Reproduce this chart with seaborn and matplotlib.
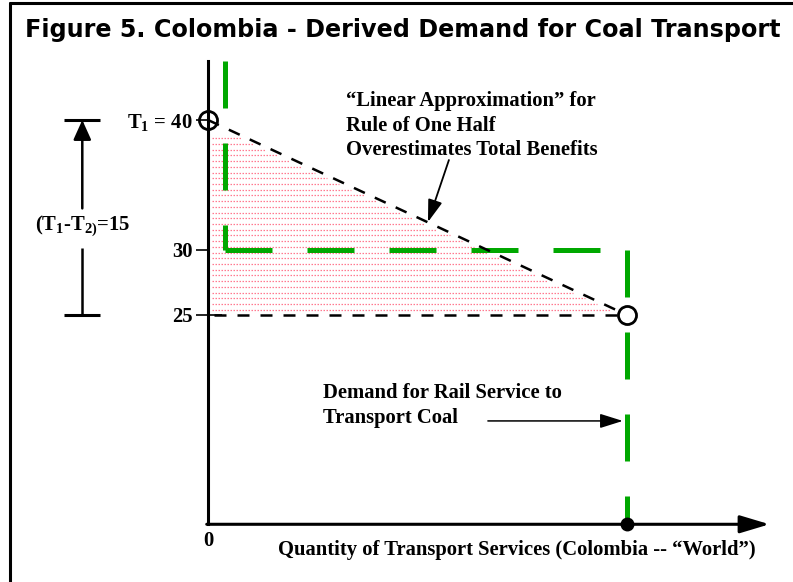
import numpy as np
import matplotlib.pyplot as plt
import seaborn as sns
from matplotlib.lines import Line2D

# --- values ---
TITLE = "Figure 5. Colombia - Derived Demand for Coal Transport"

T1 = 40          # transport cost before
T2 = 25          # transport cost after
RAIL_PRICE = 30  # flat part of the rail demand curve
Q_RAIL = 100     # quantity shipped at T2

# green "demand for rail service" curve, drawn as three pieces
demand_q = [4, 4, 4, Q_RAIL, Q_RAIL, Q_RAIL]
demand_p = [44.5, RAIL_PRICE, RAIL_PRICE, RAIL_PRICE, RAIL_PRICE, 8.9]
demand_seg = [0, 0, 1, 1, 2, 2]

# dashed linear approximation (rule of one half)
approx_q = [0, Q_RAIL]
approx_p = [T1, T2]

ytick_vals = [T2, RAIL_PRICE, T1]
ytick_labels = ["25", "30", r"T$_1$ = 40"]

# --- styling ---
sns.set_style("white")
plt.rcParams["font.family"] = ["Liberation Serif", "DejaVu Serif"]
plt.rcParams["font.weight"] = "bold"
plt.rcParams["text.color"] = "black"
plt.rcParams["ytick.color"] = "black"
plt.rcParams["mathtext.fontset"] = "custom"
plt.rcParams["mathtext.rm"] = "Liberation Serif:bold"
plt.rcParams["mathtext.it"] = "Liberation Serif:bold"
plt.rcParams["mathtext.bf"] = "Liberation Serif:bold"

GREEN = "#00a800"
PINK = "#ff7a90"
FS = 14.9
AXIS_FLOOR = demand_p[-1]
AXIS_TOP = demand_p[0]
X_END = 134

fig = plt.figure(figsize=(7.93, 5.82), dpi=100)
ax = fig.add_axes([0, 0, 1, 1])

# shaded area under the linear approximation (dotted pink texture)
levels = np.arange(T2 + 0.4, T1 - 1.0, 0.44)
right = approx_q[0] + (approx_q[1] - approx_q[0]) * (T1 - levels) / (T1 - T2) - 1.5
keep = right > 2
ax.hlines(levels[keep], 1.0, right[keep], colors=PINK, lw=0.9,
          linestyles=(0, (1.2, 1.2)), zorder=1)

# demand curve and approximation
sns.lineplot(x=demand_q, y=demand_p, units=demand_seg, estimator=None, sort=False,
             color=GREEN, lw=3.6, linestyle=(0, (9.4, 7)), ax=ax, zorder=3)
sns.lineplot(x=approx_q, y=approx_p, estimator=None, sort=False, color="black",
             lw=1.8, linestyle=(0, (4.8, 4.4)), ax=ax, zorder=4)
sns.lineplot(x=[approx_q[0] + 1.5, Q_RAIL], y=[T2, T2], estimator=None, color="black",
             lw=1.8, linestyle=(0, (4.8, 4.4)), ax=ax, zorder=4)
ax.plot(approx_q[0], approx_p[0], "o", mfc="none", mec="black", ms=13, mew=2, zorder=5)
ax.plot(approx_q[1], approx_p[1], "o", mfc="white", mec="black", ms=13, mew=2, zorder=5)
ax.plot(demand_q[-1], AXIS_FLOOR, "o", color="black", ms=9, zorder=5)

# axes: y spine at quantity 0, x axis drawn as an arrow
for side in ["top", "right", "bottom"]:
    ax.spines[side].set_visible(False)
ax.spines["left"].set_position(("data", 0))
ax.spines["left"].set_bounds(AXIS_FLOOR, AXIS_TOP)
ax.spines["left"].set_linewidth(2.2)
ax.spines["left"].set_color("black")
ax.set_yticks(ytick_vals, ytick_labels)
ax.set_xticks([])
ax.tick_params(axis="y", direction="out", length=9, width=1.2, pad=2,
               labelsize=FS, left=True, color="black", labelcolor="black")
for lbl in ax.get_yticklabels():
    lbl.set_fontweight("bold")
# the 25 tick runs a little into the plot area
ax.hlines(T2, 0, 3.3, colors="black", lw=1.2, zorder=2)
ax.annotate("", xy=(X_END, AXIS_FLOOR), xytext=(-0.3, AXIS_FLOOR),
            arrowprops=dict(arrowstyle="-|>,head_length=0.9,head_width=0.27",
                            mutation_scale=20, lw=2.2, color="black",
                            shrinkA=0, shrinkB=0), zorder=2)
ax.text(0, 7.6, "0", ha="center", va="center", fontsize=FS)
ax.text(16.7, 6.9, "Quantity of Transport Services (Colombia -- \u201cWorld\u201d)",
        ha="left", va="center", fontsize=FS)

# (T1-T2) bracket on the left
xb = -30
ax.hlines([T1, T2], xb - 4.3, xb + 4.3, colors="black", lw=2.2)
ax.vlines(xb, T2, 30.15, colors="black", lw=1.8)
ax.annotate("", xy=(xb, T1), xytext=(xb, 33.2),
            arrowprops=dict(arrowstyle="-|>,head_length=0.6,head_width=0.27",
                            mutation_scale=20, lw=1.8, color="black",
                            shrinkA=0, shrinkB=0))
ax.text(xb, 31.9, r"(T$_1$-T$_{2)}$=15", ha="center", va="center", fontsize=FS)

# annotations
ax.text(32.9, 42.2, "\u201cLinear Approximation\u201d for\nRule of One Half\nOverestimates Total Benefits",
        ha="left", va="top", fontsize=FS, linespacing=1.3)
ax.annotate("", xy=(52.5, 32.15), xytext=(57.5, 36.92),
            arrowprops=dict(arrowstyle="-|>,head_length=0.68,head_width=0.22",
                            mutation_scale=20, lw=1.3, color="black",
                            shrinkA=0, shrinkB=0))
ax.text(27.4, 19.75, "Demand for Rail Service to\nTransport Coal",
        ha="left", va="top", fontsize=FS, linespacing=1.3)
ax.annotate("", xy=(99.0, 16.85), xytext=(66.8, 16.85),
            arrowprops=dict(arrowstyle="-|>,head_length=0.7,head_width=0.22",
                            mutation_scale=20, lw=1.1, color="black",
                            shrinkA=0, shrinkB=0))

ax.set_xlim(-49.64, 139.62)
ax.set_ylim(4.46, 49.23)
ax.set_xlabel("")
ax.set_ylabel("")

# title and frame
fig.text(25 / 793, 1 - 30 / 582, TITLE, fontsize=17.2, fontweight="bold",
         family="DejaVu Sans", color="black", ha="left", va="center")
fig.add_artist(Line2D([10 / 793, 10 / 793], [0, 1 - 2.5 / 582],
                      transform=fig.transFigure, color="black", lw=2.2))
fig.add_artist(Line2D([10 / 793, 1], [1 - 2.5 / 582, 1 - 2.5 / 582],
                      transform=fig.transFigure, color="black", lw=2.2))

fig.savefig("out.png", dpi=100)
